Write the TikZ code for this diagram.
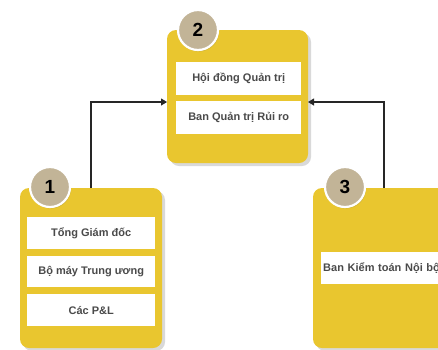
\documentclass[tikz,border=0pt]{standalone}
\usepackage{fontspec}
\setmainfont{Liberation Sans}
\usetikzlibrary{shadows,arrows.meta}
\definecolor{panelyellow}{HTML}{E9C62F}
\definecolor{badgetan}{HTML}{C2B497}
\definecolor{labelgrey}{HTML}{4A4A4A}
\tikzset{
  panel/.style={fill=panelyellow, rounded corners=9pt,
    drop shadow={shadow xshift=3pt, shadow yshift=-3pt, opacity=0.25, fill=black!60}},
  badge/.style={circle, fill=badgetan, draw=white, line width=2.2pt, minimum size=40pt,
    inner sep=0pt, font=\bfseries\fontsize{19}{19}\selectfont, text=black,
    drop shadow={shadow xshift=1pt, shadow yshift=-1.5pt, opacity=0.2, fill=black!60}},
  itembox/.style={fill=white, anchor=north west, inner sep=0pt,
    font=\bfseries\fontsize{11}{12}\selectfont, text=labelgrey},
  link/.style={draw=black!85, line width=1.1pt, -{Triangle[length=6pt,width=7pt]}}
}
\begin{document}
\begin{tikzpicture}[x=1pt,y=-1pt]
\useasboundingbox (0,0) rectangle (438,349);
\clip (0,0) rectangle (438,349);

% panel 2: board level
\path[panel] (167,30) rectangle (308,163);
\coordinate (p2w) at (167,102);
\coordinate (p2e) at (308,102);
\node[itembox, minimum width=125pt, minimum height=33pt] (hdqt) at (176,62) {Hội đồng Quản trị};
\node[itembox, minimum width=125pt, minimum height=33pt] (bqtrr) at (176,101) {Ban Quản trị Rủi ro};

% panel 1: management
\path[panel] (20,188) rectangle (162,348);
\coordinate (p1n) at (91,188);
\node[itembox, minimum width=128pt, minimum height=32pt] (tgd) at (27,217) {Tổng Giám đốc};
\node[itembox, minimum width=128pt, minimum height=31pt] (bmtu) at (27,256) {Bộ máy Trung ương};
\node[itembox, minimum width=128pt, minimum height=32pt] (pl) at (27,294) {Các P\&L};

% panel 3: internal audit
\path[panel] (313,188) rectangle (470,348);
\coordinate (p3n) at (384,188);
\node[itembox, minimum width=140pt, minimum height=32pt, align=left, text width=136pt, inner xsep=2pt] (bktnb) at (321,252) {Ban Kiểm toán Nội bộ};

% reporting lines
\draw[link] (p1n) |- (p2w);
\draw[link] (p3n) |- (p2e);

% numbered badges
\node[badge] (b2) at (198,30) {2};
\node[badge] (b1) at (50,187) {1};
\node[badge] (b3) at (345,187) {3};
\end{tikzpicture}
\end{document}
